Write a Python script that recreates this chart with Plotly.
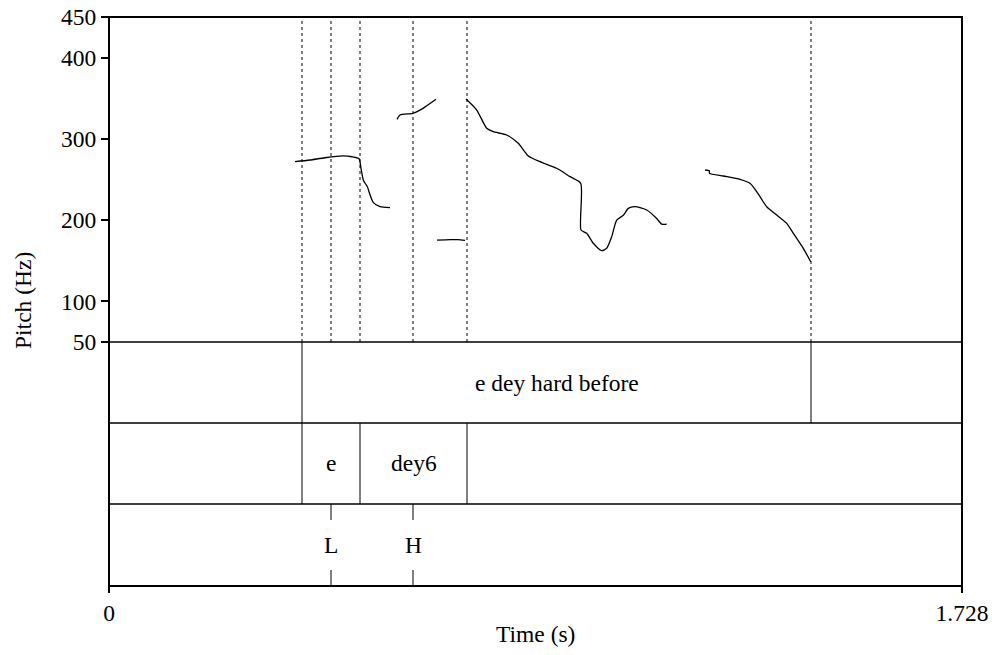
import plotly.graph_objects as go

# ---------------- data ----------------
t_min, t_max = 0.0, 1.728
f_min, f_max = 50, 450
pitch_ticks = [50, 100, 200, 300, 400, 450]

# pitch contour segments (time s, F0 Hz)
seg1_t = [0.3768, 0.4072, 0.4376, 0.4740, 0.4923, 0.5065, 0.5105, 0.5153, 0.5234, 0.5289, 0.5356, 0.5490, 0.5693]
seg1_f = [271.9, 274.0, 276.8, 279.0, 278.0, 275.5, 263.7, 249.0, 241.0, 231.0, 221.5, 216.5, 215.3]
seg2_t = [0.6645, 0.6908, 0.7070, 0.7212]
seg2_f = [175.3, 176.0, 176.0, 175.0]
seg3_t = [0.5834, 0.5895, 0.6158, 0.6361, 0.6624]
seg3_f = [324.0, 329.4, 331.5, 337.6, 348.7]
seg4_t = [0.7232, 0.7449, 0.7652, 0.7785, 0.8057, 0.8292, 0.8494, 0.8731, 0.9070, 0.9339, 0.9556,
          0.9562, 0.9677, 0.9811, 0.9981, 1.0082, 1.0184, 1.0285, 1.0419, 1.0520, 1.0656, 1.0893,
          1.1095, 1.1196, 1.1298]
seg4_f = [349.0, 335.5, 313.0, 308.8, 304.8, 294.5, 279.0, 271.9, 263.8, 253.5, 245.3,
          187.8, 183.8, 171.5, 162.4, 165.3, 179.6, 200.0, 206.0, 214.5, 216.5, 212.5,
          202.0, 195.0, 195.0]
seg5_t = [1.2074, 1.2161, 1.2165, 1.2445, 1.2783, 1.2986, 1.3121, 1.3324, 1.3527, 1.3729, 1.3863, 1.4065, 1.4215]
seg5_f = [261.7, 260.8, 257.6, 254.3, 250.2, 245.3, 235.0, 216.5, 206.3, 196.0, 183.8, 165.3, 148.8]
segments = [(seg1_t, seg1_f), (seg2_t, seg2_f), (seg3_t, seg3_f), (seg4_t, seg4_f), (seg5_t, seg5_f)]

# TextGrid tiers
tier1_bounds = [0.39098, 1.42212]
tier1_labels = ["e dey hard before"]
tier2_bounds = [0.39098, 0.50848, 0.72524]
tier2_labels = ["e", "dey6"]
tier3_points = [0.44973, 0.61584]
tier3_labels = ["L", "H"]
dotted_times = [0.39098, 0.44973, 0.50848, 0.61584, 0.72524, 1.42212]

# ---------------- layout geometry ----------------
FONT = "Liberation Serif, Times New Roman, serif"
FS = 23.5
PH = 569.0  # plot area height in px
pitch_bottom = 244 / PH   # paper y of pitch-area bottom
tier_tops = [pitch_bottom, 163 / PH, 82 / PH]
tier_bots = [163 / PH, 82 / PH, 0.0]

def txt(size=FS):
    return dict(family=FONT, size=size, color="black")

fig = go.Figure()
for t, f in segments:
    fig.add_trace(go.Scatter(x=t, y=f, mode="lines",
                             line=dict(color="black", width=1.3, shape="spline", smoothing=0.6),
                             showlegend=False, hoverinfo="skip"))

shapes = []
for t in dotted_times:
    shapes.append(dict(type="line", xref="x", yref="paper", x0=t, x1=t, y0=pitch_bottom, y1=1,
                       line=dict(color="black", width=1, dash="dot")))
for yv in tier_tops:
    shapes.append(dict(type="line", xref="paper", yref="paper", x0=0, x1=1, y0=yv, y1=yv,
                       line=dict(color="black", width=1.5)))
for t in tier1_bounds:
    shapes.append(dict(type="line", xref="x", yref="paper", x0=t, x1=t, y0=tier_bots[0], y1=tier_tops[0],
                       line=dict(color="black", width=1)))
for t in tier2_bounds:
    shapes.append(dict(type="line", xref="x", yref="paper", x0=t, x1=t, y0=tier_bots[1], y1=tier_tops[1],
                       line=dict(color="black", width=1)))
tick_h = 16 / PH
for t in tier3_points:
    shapes.append(dict(type="line", xref="x", yref="paper", x0=t, x1=t, y0=tier_tops[2] - tick_h, y1=tier_tops[2],
                       line=dict(color="black", width=1)))
    shapes.append(dict(type="line", xref="x", yref="paper", x0=t, x1=t, y0=0, y1=tick_h,
                       line=dict(color="black", width=1)))
shapes.append(dict(type="rect", xref="paper", yref="paper", x0=0, x1=1, y0=0, y1=1,
                   line=dict(color="black", width=2)))

annotations = []
def mid(a, b):
    return (a + b) / 2
def label(x, y, text, xref="x"):
    return dict(x=x, y=y, xref=xref, yref="paper", text=text, showarrow=False,
                xanchor="center", yanchor="middle", font=txt())
for i, lab in enumerate(tier1_labels):
    annotations.append(label(mid(tier1_bounds[i], tier1_bounds[i + 1]), mid(tier_tops[0], tier_bots[0]), lab))
for i, lab in enumerate(tier2_labels):
    annotations.append(label(mid(tier2_bounds[i], tier2_bounds[i + 1]), mid(tier_tops[1], tier_bots[1]), lab))
for t, lab in zip(tier3_points, tier3_labels):
    annotations.append(label(t, mid(tier_tops[2], tier_bots[2]), lab))
annotations.append(dict(x=-86 / 853, y=(586 - 301) / PH, xref="paper", yref="paper", text="Pitch (Hz)",
                        textangle=-90, showarrow=False, xanchor="center", yanchor="middle", font=txt()))
annotations.append(dict(x=0.5, y=-(634 - 586) / PH, xref="paper", yref="paper", text="Time (s)",
                        showarrow=False, xanchor="center", yanchor="middle", font=txt()))

fig.update_layout(
    width=992, height=655,
    margin=dict(l=109, r=30, t=17, b=69, autoexpand=False),
    paper_bgcolor="white", plot_bgcolor="white",
    shapes=shapes, annotations=annotations,
    xaxis=dict(range=[t_min, t_max], tickvals=[t_min, t_max], ticktext=["0", "1.728"],
               ticks="outside", ticklen=6, tickwidth=1.5, tickcolor="black",
               showgrid=False, zeroline=False, showline=False, anchor="free", position=0,
               automargin=False, tickfont=txt()),
    yaxis=dict(range=[f_min, f_max], domain=[pitch_bottom, 1], tickvals=pitch_ticks,
               ticks="outside", ticklen=7, tickwidth=1.5, tickcolor="black",
               showgrid=False, zeroline=False, showline=False, automargin=False,
               tickfont=txt()),
)

fig.write_html("out.html")
